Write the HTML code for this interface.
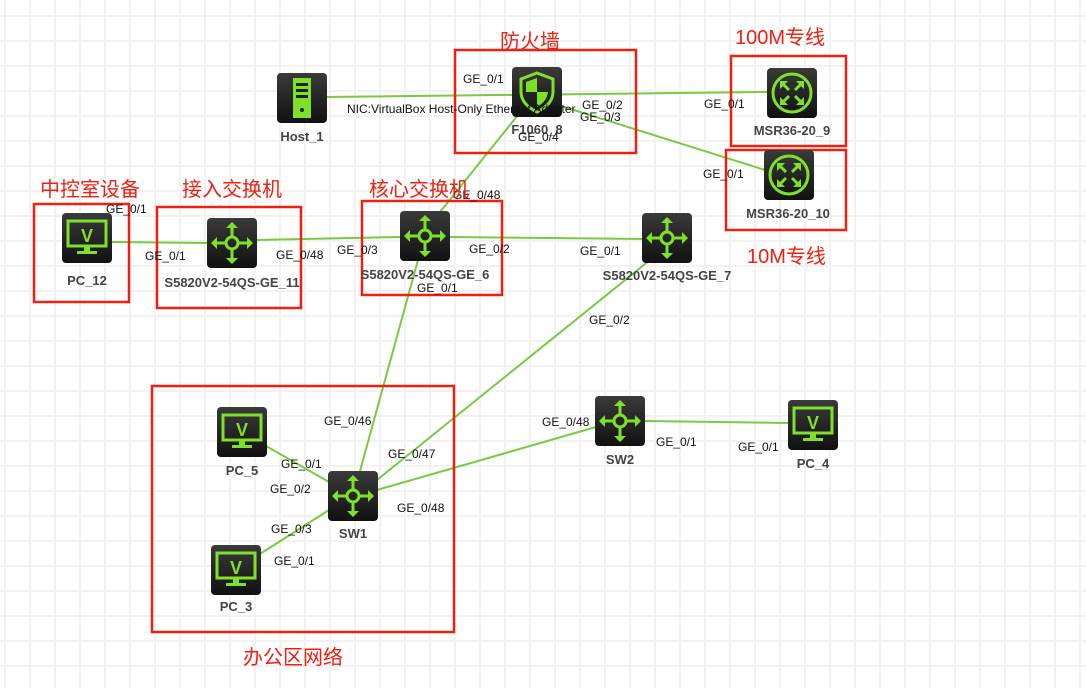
<!DOCTYPE html>
<html><head><meta charset="utf-8"><style>
body{margin:0;width:1086px;height:688px;overflow:hidden;background:#fff;
background-image:linear-gradient(#f2f2f2 2px,transparent 2px),linear-gradient(90deg,#f2f2f2 2px,transparent 2px);
background-size:25px 25px;background-position:4px 15px;font-family:"Liberation Sans",sans-serif;}
svg{position:absolute;left:0;top:0}
.l{font-size:12px;fill:#111}
.n{font-size:13px;font-weight:bold;fill:#444;text-anchor:middle}
.r{font-size:20px;fill:#f02010;font-family:"Liberation Sans","Noto Sans CJK SC",sans-serif}
</style></head><body>
<svg width="1086" height="688">
<defs>
<linearGradient id="g" x1="0" y1="0" x2="0" y2="1"><stop offset="0" stop-color="#3a3a3a"/><stop offset="1" stop-color="#111"/></linearGradient>
<g id="sw"><rect x="-25" y="-25" width="50" height="50" rx="4" fill="url(#g)"/>
<g stroke="#7fe02a" stroke-width="3" fill="none"><circle r="6"/><path d="M0-6V-18M0 6V18M-6 0H-18M6 0H18"/></g>
<g fill="#7fe02a"><path d="M0-21l-6 6h12zM0 21l-6-6h12zM-21 0l6-6v12zM21 0l-6-6v12z"/></g></g>
<g id="pc"><rect x="-25" y="-25" width="50" height="50" rx="4" fill="url(#g)"/>
<rect x="-19" y="-17" width="38" height="25" fill="none" stroke="#7fe02a" stroke-width="3"/>
<text x="0" y="4" text-anchor="middle" font-size="18" font-weight="bold" fill="#7fe02a">V</text>
<path d="M-3 9h6v4h7v3h-20v-3h7z" fill="#7fe02a"/></g>
<g id="rt"><rect x="-25" y="-25" width="50" height="50" rx="4" fill="url(#g)"/>
<circle r="19" fill="none" stroke="#7fe02a" stroke-width="3"/>
<g stroke="#7fe02a" stroke-width="3" fill="none"><path d="M-10-10L-3-3M10-10L3-3M-10 10L-3 3M10 10L3 3"/></g>
<g fill="#7fe02a"><path d="M-12-12h8l-8 8zM12-12h-8l8 8zM-12 12h8l-8-8zM12 12h-8l8-8z"/></g></g>
<g id="host"><rect x="-25" y="-25" width="50" height="50" rx="4" fill="url(#g)"/>
<rect x="-9" y="-20" width="18" height="40" fill="#7fe02a"/>
<g fill="#222"><rect x="-6" y="-15" width="12" height="3"/><rect x="-6" y="-9" width="12" height="3"/><rect x="-6" y="-3" width="12" height="3"/><circle cy="12" r="2"/></g></g>
<g id="fw"><rect x="-25" y="-25" width="50" height="50" rx="4" fill="url(#g)"/>
<path d="M0-19L16-13V0C16 10 8 16 0 20C-8 16-16 10-16 0V-13Z" fill="none" stroke="#7fe02a" stroke-width="3"/>
<path d="M0-14V0H-11V-10ZM0 0H11C10 8 5 12 0 15Z" fill="#7fe02a"/></g>
</defs>
<g stroke="#7ac943" stroke-width="2" fill="none">
<line x1="326" y1="97" x2="768" y2="92"/>
<line x1="561" y1="106" x2="765" y2="170"/>
<line x1="518" y1="115" x2="440" y2="212"/>
<line x1="111" y1="242" x2="208" y2="243"/>
<line x1="256" y1="240" x2="401" y2="237"/>
<line x1="449" y1="237" x2="643" y2="239"/>
<line x1="418" y1="260" x2="360" y2="471"/>
<line x1="650" y1="260" x2="377" y2="480"/>
<line x1="377" y1="490" x2="596" y2="427"/>
<line x1="644" y1="421" x2="789" y2="423"/>
<line x1="266" y1="446" x2="329" y2="482"/>
<line x1="260" y1="554" x2="329" y2="510"/>
</g>
<g fill="none" stroke="#f02010" stroke-width="2.5">
<rect x="455" y="50" width="181" height="103"/>
<rect x="731" y="56" width="115" height="90"/>
<rect x="726" y="150" width="120" height="80"/>
<rect x="34" y="204" width="95" height="98"/>
<rect x="157" y="207" width="144" height="101"/>
<rect x="362" y="201" width="140" height="94"/>
<rect x="152" y="386" width="302" height="246"/>
</g>
<use href="#host" x="302" y="98"/><use href="#fw" x="537" y="92"/>
<use href="#rt" x="792" y="93"/><use href="#rt" x="789" y="175"/>
<use href="#pc" x="87" y="238"/><use href="#sw" x="232" y="243"/>
<use href="#sw" x="425" y="236"/><use href="#sw" x="667" y="238"/>
<use href="#pc" x="242" y="432"/><use href="#sw" x="353" y="496"/>
<use href="#pc" x="236" y="570"/><use href="#sw" x="620" y="421"/>
<use href="#pc" x="813" y="425"/>
<text class="n" x="302" y="141">Host_1</text><text class="n" x="537" y="134">F1060_8</text>
<text class="n" x="792" y="135">MSR36-20_9</text><text class="n" x="788" y="218">MSR36-20_10</text>
<text class="n" x="87" y="285">PC_12</text><text class="n" x="232" y="287">S5820V2-54QS-GE_11</text>
<text class="n" x="425" y="279">S5820V2-54QS-GE_6</text><text class="n" x="667" y="280">S5820V2-54QS-GE_7</text>
<text class="n" x="242" y="475">PC_5</text><text class="n" x="353" y="538">SW1</text>
<text class="n" x="236" y="611">PC_3</text><text class="n" x="620" y="464">SW2</text><text class="n" x="813" y="468">PC_4</text>
<g class="l">
<text x="347" y="113">NIC:VirtualBox Host-Only Ethernet Adapter</text>
<text x="463" y="83">GE_0/1</text><text x="582" y="109">GE_0/2</text><text x="580" y="121">GE_0/3</text>
<text x="518" y="141">GE_0/4</text><text x="453" y="199">GE_0/48</text>
<text x="704" y="108">GE_0/1</text><text x="703" y="178">GE_0/1</text>
<text x="106" y="213">GE_0/1</text><text x="145" y="260">GE_0/1</text><text x="276" y="259">GE_0/48</text>
<text x="337" y="254">GE_0/3</text><text x="469" y="253">GE_0/2</text><text x="417" y="292">GE_0/1</text>
<text x="580" y="255">GE_0/1</text><text x="589" y="324">GE_0/2</text>
<text x="324" y="425">GE_0/46</text><text x="388" y="458">GE_0/47</text><text x="397" y="512">GE_0/48</text>
<text x="281" y="468">GE_0/1</text><text x="270" y="493">GE_0/2</text><text x="271" y="533">GE_0/3</text>
<text x="274" y="565">GE_0/1</text><text x="542" y="426">GE_0/48</text>
<text x="656" y="446">GE_0/1</text><text x="738" y="451">GE_0/1</text>
</g>
<g class="r">
<text x="500" y="48">防火墙</text><text x="735" y="44">100M专线</text>
<text x="40" y="196">中控室设备</text><text x="182" y="196">接入交换机</text>
<text x="369" y="196">核心交换机</text><text x="747" y="263">10M专线</text>
<text x="243" y="664">办公区网络</text>
</g>
</svg>
</body></html>
